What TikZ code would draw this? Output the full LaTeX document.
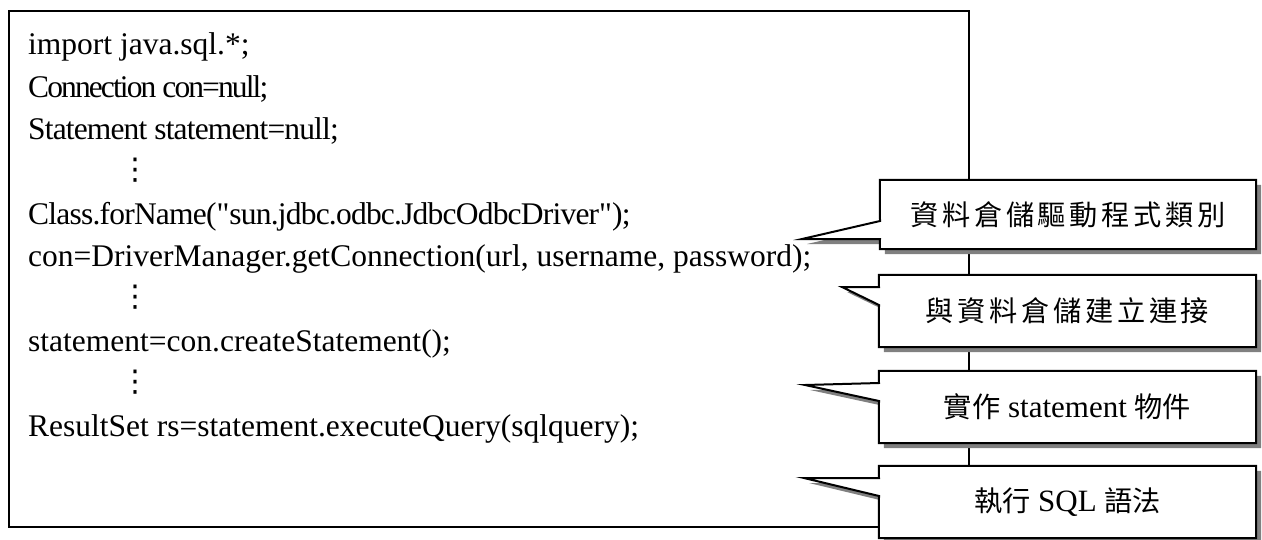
\documentclass[tikz,border=0pt]{standalone}
\usepackage{fontspec}
\setmainfont{Liberation Serif}
\newfontfamily\cjk{Noto Sans CJK TC}[Scale=0.91]
\newfontfamily\cjksp{Noto Sans CJK TC}[Scale=0.91,LetterSpace=13]
\newfontfamily\dejavu{DejaVu Sans}
\pgfdeclarelayer{back}
\pgfsetlayers{back,main}
\begin{document}
\begin{tikzpicture}[x=1pt,y=-1pt,
  code/.style={anchor=base west, inner sep=0pt, font=\fontsize{31.5}{34}\selectfont},
  vdot/.style={inner sep=0pt, font=\dejavu\fontsize{30}{32}\selectfont},
  callbox/.style={inner sep=0pt, font=\fontsize{31}{34}\selectfont},
  shadowfill/.style={fill=black!50, transform canvas={shift={(5pt,-5pt)}}},
  outline/.style={draw=black, fill=white, line width=2pt, line join=miter},
  mainbox/.style={draw=black, line width=2pt}]
\useasboundingbox (0,0) rectangle (1262,539);

% main code box
\coordinate (mnw) at (9,11);
\coordinate (mse) at (969,527);
\begin{pgfonlayer}{back}
\draw[mainbox] (mnw) rectangle (mse);
\end{pgfonlayer}

\node[code] (l1) at (28,54.5) {import java.sql.*;};
\node[code] (l2) at (28,97) {\addfontfeatures{LetterSpace=-6}Connection con=null;};
\node[code] (l3) at (28,139) {\addfontfeatures{LetterSpace=-2.7}Statement statement=null;};
\node[vdot] (d1) at (135,170) {⋮};
\node[code] (l4) at (28,224) {\addfontfeatures{LetterSpace=-2.5}Class.forName(\textquotedbl sun.jdbc.odbc.JdbcOdbcDriver\textquotedbl);};
\node[code] (l5) at (28,266) {con=DriverManager.getConnection(url, username, password);};
\node[vdot] (d2) at (135,297) {⋮};
\node[code] (l6) at (28,351) {statement=con.createStatement();};
\node[vdot] (d3) at (135,382) {⋮};
\node[code] (l7) at (28,436) {ResultSet rs=statement.executeQuery(sqlquery);};

% callout boxes
\node[callbox, minimum width=376pt, minimum height=69pt] (c1) at (1068,214.5) {\cjksp 資料倉儲驅動程式類別};
\node[callbox, minimum width=377pt, minimum height=72pt] (c2) at (1067.5,311) {\cjksp 與資料倉儲建立連接};
\node[callbox, minimum width=377pt, minimum height=72pt] (c3) at (1067.5,407) {{\cjk 實作} statement {\cjk 物件}};
\node[callbox, minimum width=377pt, minimum height=72pt] (c4) at (1067.5,502) {{\cjk 執行} SQL {\cjk 語法}};

% tails: a = top base, t = tip, b = bottom base
\coordinate (a1) at (880,221);  \coordinate (t1) at (802,239); \coordinate (b1) at (880,239);
\coordinate (a2) at (879,287);  \coordinate (t2) at (842,287); \coordinate (b2) at (879,305);
\coordinate (a3) at (879,383);  \coordinate (t3) at (805,385); \coordinate (b3) at (879,401);
\coordinate (a4) at (879,478);  \coordinate (t4) at (804,478); \coordinate (b4) at (879,496);

\begin{pgfonlayer}{back}
\foreach \i in {1,2,3,4} {
  \fill[shadowfill] (c\i.north west) -- (c\i.north east) -- (c\i.south east) -- (c\i.south west)
     -- (b\i) -- (t\i) -- (a\i) -- cycle;
}
\foreach \i in {1,2,3,4} {
  \draw[outline] (c\i.north west) -- (c\i.north east) -- (c\i.south east) -- (c\i.south west)
     -- (b\i) -- (t\i) -- (a\i) -- cycle;
}
\end{pgfonlayer}
\end{tikzpicture}
\end{document}
